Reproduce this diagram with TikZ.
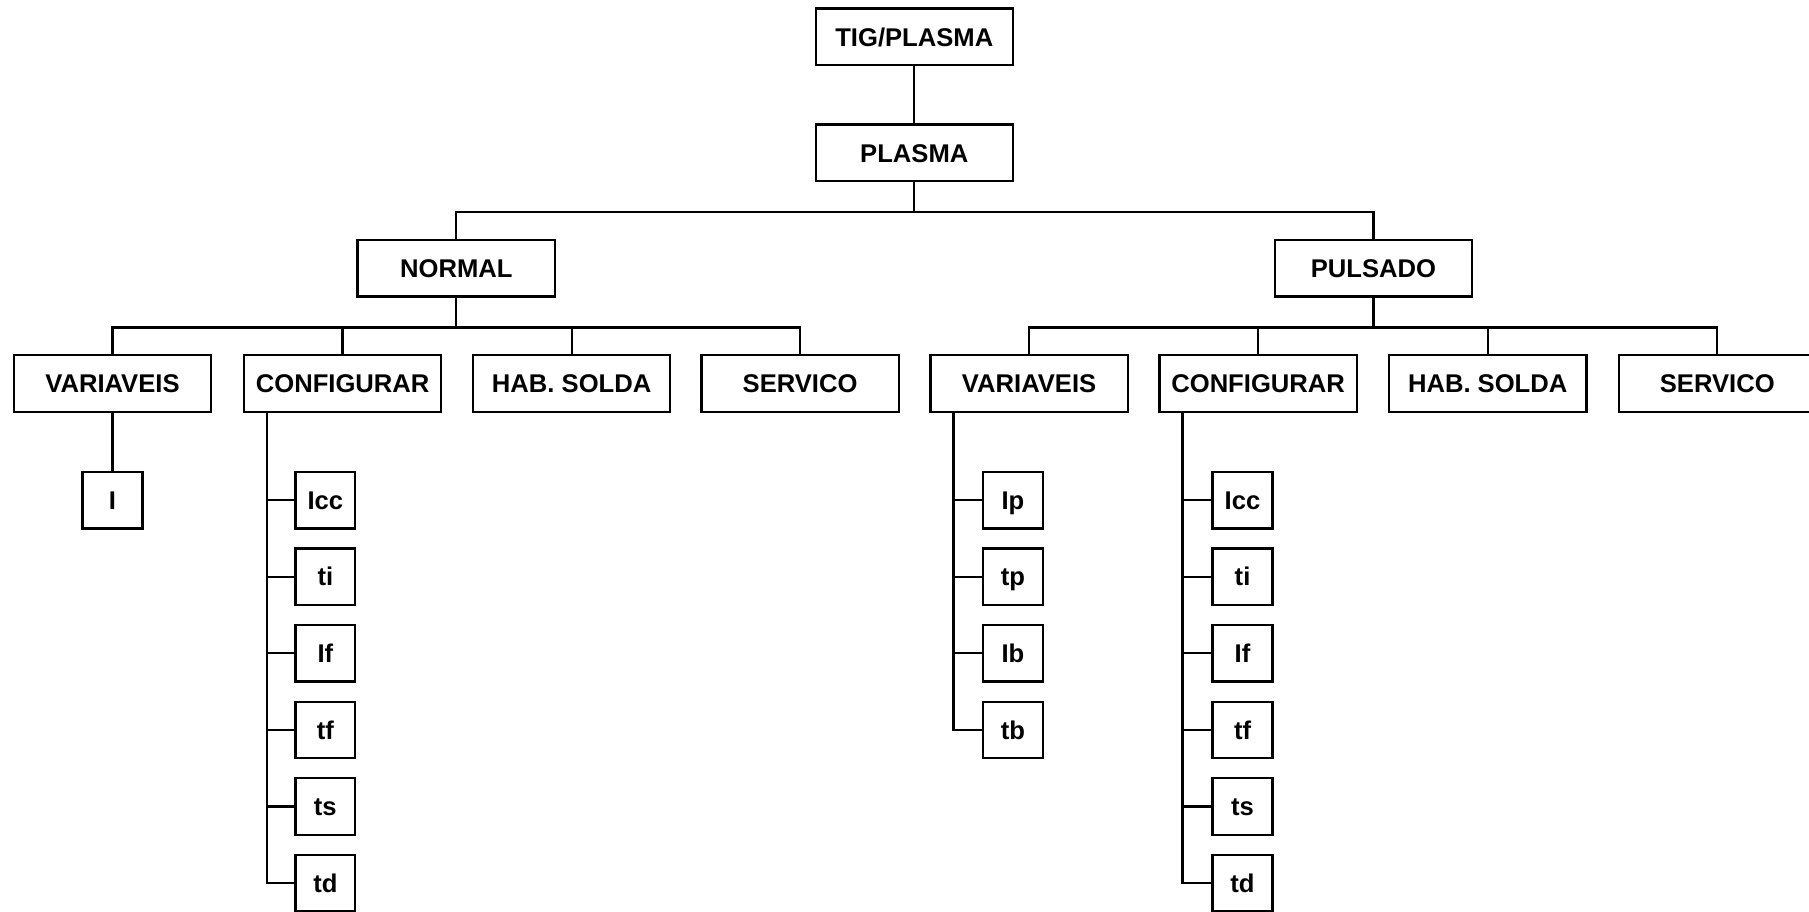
\documentclass[tikz,border=0pt]{standalone}
\usepackage{fontspec}
\setmainfont{Liberation Sans}
\begin{document}
\begin{tikzpicture}[x=0.5pt,y=-0.5pt,
  box/.style={draw,line width=1pt,rectangle,inner sep=0pt,text height=8pt,text depth=0pt,minimum width=85.5pt,minimum height=24.5pt,font=\fontsize{11.1}{13}\selectfont\bfseries},
  sbox/.style={box,minimum width=26pt},
  conn/.style={line width=1pt}]
\useasboundingbox (0,0) rectangle (1568,790);
\node[box] (tig) at (792.5,32) {TIG/PLASMA};
\node[box] (plasma) at (792.5,132.5) {PLASMA};
\node[box] (normal) at (395.5,232.5) {NORMAL};
\node[box] (pulsado) at (1190.5,232.5) {PULSADO};
% level 3
\node[box] (v1) at (97.5,332.5) {VARIAVEIS};
\node[box] (c1) at (297,332.5) {CONFIGURAR};
\node[box] (h1) at (495.5,332.5) {HAB. SOLDA};
\node[box] (s1) at (693.5,332.5) {SERVICO};
\node[box] (v2) at (892,332.5) {VARIAVEIS};
\node[box] (c2) at (1090.5,332.5) {CONFIGURAR};
\node[box] (h2) at (1289.5,332.5) {HAB. SOLDA};
\node[box] (s2) at (1488.5,332.5) {SERVICO};
% level 4
\node[sbox] (i1) at (97.5,433.5) {I};
\foreach \n/\t [count=\k from 0] in {icc/Icc,ti/ti,if/If,tf/tf,ts/ts,td/td}{
  \node[sbox] (\n1) at (282,433.5+66.4*\k) {\t};
  \node[sbox] (\n2) at (1077,433.5+66.4*\k) {\t};
}
\foreach \n/\t [count=\k from 0] in {ip/Ip,tp/tp,ib/Ib,tb/tb}{
  \node[sbox] (\n) at (878,433.5+66.4*\k) {\t};
}
% connectors
\draw[conn] (tig) -- (plasma);
\draw[conn] (plasma.south) -- ++(0,26) -| (normal.north);
\draw[conn] (plasma.south) -- ++(0,26) -| (pulsado.north);
\foreach \c in {v1,c1,h1,s1}{\draw[conn] (normal.south) -- ++(0,26) -| (\c.north);}
\foreach \c in {v2,c2,h2,s2}{\draw[conn] (pulsado.south) -- ++(0,26) -| (\c.north);}
\draw[conn] (v1.south) -- (i1.north);
\foreach \n in {icc1,ti1,if1,tf1,ts1,td1}{\draw[conn] ([xshift=10.5pt]c1.south west) |- (\n.west);}
\foreach \n in {icc2,ti2,if2,tf2,ts2,td2}{\draw[conn] ([xshift=10.5pt]c2.south west) |- (\n.west);}
\foreach \n in {ip,tp,ib,tb}{\draw[conn] ([xshift=10.5pt]v2.south west) |- (\n.west);}
\end{tikzpicture}
\end{document}
